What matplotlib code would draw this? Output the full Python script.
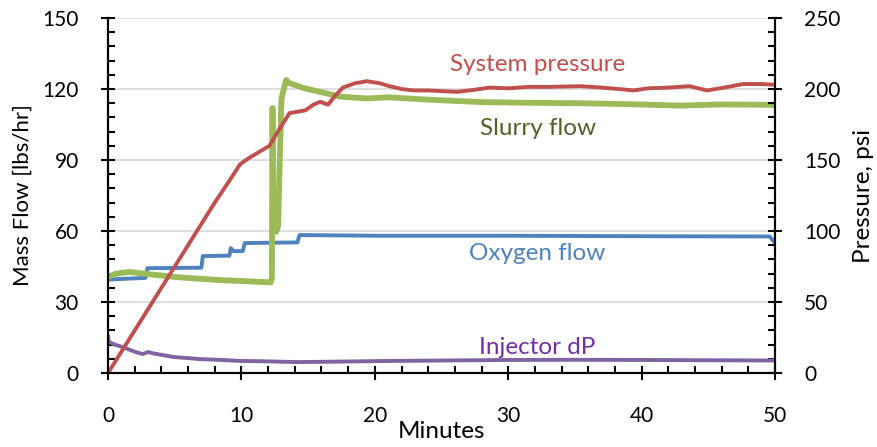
import matplotlib
matplotlib.use('Agg')
import matplotlib.pyplot as plt
from matplotlib.ticker import MultipleLocator

plt.rcParams['font.family'] = ['Lato', 'DejaVu Sans']

# system pressure, psi (right axis)
pres_t = [0, 1, 2, 3, 4, 5, 6, 7, 8, 9, 9.9, 10.5, 11.2, 12.1, 12.8, 13.6, 14.2,
          14.8, 15.4, 15.9, 16.5, 17.0, 17.6, 18.5, 19.4, 20.4, 21.1, 22.0, 22.9,
          24.0, 25.0, 26.2, 27.5, 28.6, 30, 31.5, 33, 35.4, 37, 38.3, 39.4, 40.5,
          42, 43.6, 44.9, 46.2, 47.6, 49, 50]
pres_psi = [0, 15, 30, 45, 60, 75, 90, 105, 120, 134, 147, 151, 155, 160, 171, 183,
            184, 185, 189, 191, 189, 195, 201, 204, 205.5, 204, 202, 200, 199, 199,
            198.5, 198, 199.5, 201, 200.5, 201.5, 201.5, 202, 201, 200, 199, 200.5,
            201, 202, 199, 201, 203.5, 203.5, 203]

# slurry flow, lbs/hr
slurry_t = [0, 0.5, 1, 1.6, 3, 4, 5, 6.1, 7, 8, 9, 9.9, 11, 12.2, 12.28, 12.33,
            12.38, 12.6, 12.75, 12.85, 13.0, 13.35, 13.6, 14.6, 16.1, 17.4, 19.4,
            21, 24, 27.9, 31, 35.4, 39, 42.9, 46, 49.9, 50]
slurry_flow = [40.5, 41.8, 42.3, 42.7, 41.8, 41.2, 40.6, 40.1, 39.8, 39.4, 39.1,
               38.9, 38.6, 38.3, 40, 112, 60, 59.6, 62, 85, 116, 123.8, 122.5,
               120.5, 118.5, 116.8, 116, 116.5, 115.5, 114.5, 114.2, 114, 113.6,
               113, 113.5, 113.3, 113]

# oxygen flow, lbs/hr
oxy_t = [0, 2.8, 2.95, 7.0, 7.1, 9.1, 9.2, 9.4, 10.1, 10.25, 14.2, 14.35, 20, 30,
         40, 49.6, 50]
oxy_flow = [39.5, 40.2, 44.3, 44.5, 49.4, 49.6, 52.8, 51.5, 51.5, 54.9, 55.2, 58.3,
            58, 58, 57.8, 57.7, 55]

# injector dP, psi (right axis)
dp_t = [0, 0.05, 0.5, 1.1, 2, 2.6, 3.0, 3.4, 4, 4.9, 6, 6.9, 8.5, 9.9, 12, 14.2,
        17, 21, 25, 30, 35, 40, 45, 50]
dp_psi = [27, 22, 20, 18.3, 15, 13.3, 14.8, 13.8, 12.8, 11.3, 10.5, 9.8, 9.2, 8.5,
          8.2, 7.7, 8.0, 8.5, 8.8, 9.2, 9.3, 9.2, 9.0, 8.8]

labels = ['System pressure', 'Slurry flow', 'Oxygen flow', 'Injector dP']
label_colors = ['#C0504D', '#4F6228', '#4F81BD', '#7030A0']
label_y = [130.5, 103.5, 50.3, 10.6]

FS = 15     # tick labels
LFS = 17.5  # axis titles and series labels

fig = plt.figure(figsize=(8.77, 4.47), dpi=100)
ax = fig.add_axes([0.1232, 0.1655, 0.7605, 0.7942])
ax2 = ax.twinx()

ax.plot(oxy_t, oxy_flow, color='#4F81BD', lw=2.8, solid_capstyle='butt')
ax.plot(slurry_t, slurry_flow, color='#9BBB59', lw=4.2, solid_capstyle='butt')
ax2.plot(dp_t, dp_psi, color='#8064A2', lw=2.8, solid_capstyle='butt')
ax2.plot(pres_t, pres_psi, color='#C0504D', lw=2.8, solid_capstyle='butt')

for txt, c, y in zip(labels, label_colors, label_y):
    ax.text(32.2, y, txt, color=c, fontsize=LFS, ha='center', va='center')

ax.set_xlim(0, 50)
ax.set_ylim(0, 150)
ax2.set_ylim(0, 250)
ax.xaxis.set_major_locator(MultipleLocator(10))
ax.xaxis.set_minor_locator(MultipleLocator(2))
ax.yaxis.set_major_locator(MultipleLocator(30))
ax.yaxis.set_minor_locator(MultipleLocator(6))
ax2.yaxis.set_major_locator(MultipleLocator(50))
ax2.yaxis.set_minor_locator(MultipleLocator(10))

ax.grid(axis='y', color='#D9D9D9', lw=1.2)
ax.set_axisbelow(True)

for a in (ax, ax2):
    a.spines['top'].set_visible(False)
    for s in ('left', 'right', 'bottom'):
        a.spines[s].set_linewidth(1.5)
    a.tick_params(which='major', direction='inout', length=10, width=1.5,
                  labelsize=FS, pad=16)
    a.tick_params(which='minor', direction='in', length=5, width=1.5)
ax.tick_params(axis='y', which='both', right=False)
ax2.tick_params(axis='y', which='both', left=False)
ax.tick_params(axis='x', pad=19)

ax.set_xlabel('Minutes', fontsize=LFS, labelpad=-4)
ax.set_ylabel('Mass Flow [lbs/hr]', fontsize=16, labelpad=7)
ax2.set_ylabel('Pressure, psi', fontsize=LFS, labelpad=9)

fig.savefig('out.png', dpi=100)
